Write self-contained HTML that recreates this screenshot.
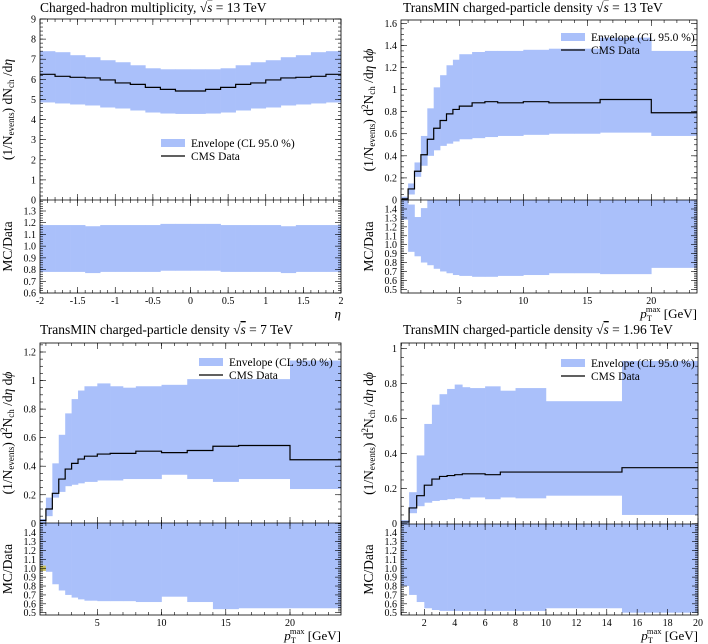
<!DOCTYPE html>
<html><head><meta charset="utf-8"><style>
html,body{margin:0;padding:0;background:#fff}
svg{display:block;font-family:"Liberation Serif",serif}
</style></head><body>
<svg id="c" width="708" height="644" viewBox="0 0 708 644" xmlns="http://www.w3.org/2000/svg"></svg>
<script>
// ---- Panel 1: charged-hadron multiplicity 13 TeV ----
const p1Edges = [-2,-1.8,-1.6,-1.4,-1.2,-1,-0.8,-0.6,-0.4,-0.2,0,0.2,0.4,0.6,0.8,1,1.2,1.4,1.6,1.8,2];
const p1Data = [6.25,6.15,6.1,6.07,5.97,5.82,5.75,5.6,5.5,5.42,5.42,5.5,5.6,5.75,5.82,5.97,6.07,6.1,6.15,6.25];
const p1Up = [7.4,7.35,7.2,7.1,6.95,6.85,6.7,6.55,6.5,6.5,6.5,6.5,6.55,6.7,6.85,6.95,7.1,7.2,7.35,7.4];
const p1Lo = [4.85,4.8,4.75,4.7,4.6,4.55,4.45,4.35,4.3,4.28,4.28,4.3,4.35,4.45,4.55,4.6,4.7,4.75,4.8,4.85];
const p1RUp = [1.18,1.18,1.18,1.17,1.18,1.18,1.18,1.18,1.19,1.19,1.19,1.19,1.18,1.18,1.18,1.18,1.17,1.18,1.18,1.18];
const p1RLo = [0.78,0.78,0.78,0.77,0.78,0.78,0.78,0.78,0.79,0.79,0.79,0.79,0.78,0.78,0.78,0.78,0.77,0.78,0.78,0.78];
const p1XTicks = ["-2","-1.5","-1","-0.5","0","0.5","1","1.5","2"];
const p1YTicks = ["0","1","2","3","4","5","6","7","8","9"];
const p1RTicks = ["0.6","0.7","0.8","0.9","1.0","1.1","1.2","1.3"];
// ---- Panel 2: TransMIN 13 TeV ----
const p2Edges = [0.5,1,1.5,2,2.5,3,3.5,4,4.5,5,6,7,8,10,12,14,16,20,24];
const p2Data = [0.01,0.1,0.26,0.41,0.55,0.65,0.72,0.78,0.82,0.85,0.88,0.89,0.88,0.89,0.88,0.88,0.91,0.79];
const p2Up = [0.03,0.15,0.34,0.58,0.83,1.02,1.13,1.22,1.27,1.32,1.34,1.35,1.35,1.36,1.37,1.37,1.47,1.35];
const p2Lo = [0,0.05,0.21,0.31,0.4,0.45,0.49,0.51,0.53,0.55,0.56,0.57,0.58,0.59,0.6,0.6,0.61,0.58];
const p2RUp = [1.6,1.45,1.31,1.41,1.6,1.6,1.6,1.6,1.6,1.6,1.6,1.6,1.6,1.6,1.6,1.6,1.6,1.6];
const p2RLo = [1.28,0.92,0.87,0.8,0.77,0.73,0.7,0.68,0.66,0.65,0.64,0.64,0.65,0.66,0.68,0.68,0.67,0.74];
const p2XTicks = ["5","10","15","20"];
const p2YTicks = ["0","0.2","0.4","0.6","0.8","1","1.2","1.4","1.6"];
const p2RTicks = ["0.5","0.6","0.7","0.8","0.9","1.0","1.1","1.2","1.3","1.4"];
// ---- Panel 3: TransMIN 7 TeV ----
const p3Edges = [0.5,1,1.5,2,2.5,3,3.5,4,4.5,5,6,7,8,10,12,14,16,20,24];
const p3Data = [0.02,0.1,0.21,0.31,0.38,0.42,0.45,0.47,0.47,0.485,0.49,0.49,0.505,0.495,0.51,0.54,0.545,0.445];
const p3Up = [0.03,0.18,0.42,0.62,0.77,0.87,0.93,0.96,0.96,0.98,0.96,0.95,0.96,0.97,1.01,1.01,1.01,1.14];
const p3Lo = [0,0.05,0.18,0.22,0.26,0.27,0.28,0.29,0.29,0.3,0.3,0.31,0.31,0.34,0.31,0.29,0.31,0.24];
const p3RUp = [1.6,1.6,1.6,1.6,1.6,1.6,1.6,1.6,1.6,1.6,1.6,1.6,1.6,1.6,1.6,1.6,1.6,1.6];
const p3RLo = [1.03,0.96,0.82,0.75,0.7,0.67,0.65,0.635,0.635,0.63,0.63,0.63,0.62,0.68,0.62,0.54,0.55,0.55];
const p3XTicks = ["5","10","15","20"];
const p3YTicks = ["0","0.2","0.4","0.6","0.8","1","1.2"];
const p3RTicks = ["0.5","0.6","0.7","0.8","0.9","1.0","1.1","1.2","1.3","1.4"];
// ---- Panel 4: TransMIN 1.96 TeV ----
const p4Edges = [0.5,1,1.5,2,2.5,3,3.5,4,4.5,5,6,7,8,10,15,20];
const p4Data = [0.01,0.09,0.16,0.22,0.255,0.27,0.275,0.28,0.285,0.285,0.28,0.295,0.295,0.295,0.32];
const p4Up = [0.02,0.18,0.39,0.57,0.68,0.74,0.77,0.795,0.78,0.775,0.785,0.76,0.775,0.7,0.93];
const p4Lo = [0,0.06,0.1,0.12,0.13,0.135,0.14,0.145,0.14,0.15,0.14,0.15,0.145,0.16,0.05];
const p4RUp = [1.6,1.6,1.6,1.6,1.6,1.6,1.6,1.6,1.6,1.6,1.6,1.6,1.6,1.6,1.6];
const p4RLo = [0.8,0.7,0.62,0.55,0.53,0.52,0.52,0.52,0.52,0.52,0.52,0.52,0.52,0.55,0.5];
const p4XTicks = ["2","4","6","8","10","12","14","16","18","20"];
const p4YTicks = ["0","0.2","0.4","0.6","0.8","1"];
const p4RTicks = ["0.5","0.6","0.7","0.8","0.9","1.0","1.1","1.2","1.3","1.4"];

const NS="http://www.w3.org/2000/svg";
const svg=document.getElementById('c');
const BLUE="#aac0fa";
function mk(tag,attrs,parent){const e=document.createElementNS(NS,tag);for(const k in attrs)e.setAttribute(k,attrs[k]);(parent||svg).appendChild(e);return e;}
function lin(v0,p0,v1,p1){return v=>p0+(v-v0)*(p1-p0)/(v1-v0);}

let clipId=0;
function panel(cfg){
  const g=mk('g',{});
  
  
  const {L,R,T,M,B}=cfg;
  const X=cfg.x, Y=cfg.y, RY=cfg.ry;
  const id1='cl'+(clipId++), id2='cl'+(clipId++);
  const cp1=mk('clipPath',{id:id1},g); mk('rect',{x:L,y:T,width:R-L,height:M-T},cp1);
  const cp2=mk('clipPath',{id:id2},g); mk('rect',{x:L,y:M,width:R-L,height:B-M},cp2);
  const gm=mk('g',{'clip-path':'url(#'+id1+')'},g);
  const gr=mk('g',{'clip-path':'url(#'+id2+')'},g);
  const E=cfg.edges;
  for(let i=0;i<E.length-1;i++){
    const x0=X(E[i]),x1=X(E[i+1]);
    const r=mk('rect',{x:x0,y:Y(cfg.up[i]),width:x1-x0+0.3,height:Math.max(0,Y(cfg.lo[i])-Y(cfg.up[i])),fill:BLUE},gm);
    
    
    const rr=mk('rect',{x:x0,y:RY(cfg.rup[i]),width:x1-x0+0.3,height:Math.max(0,RY(cfg.rlo[i])-RY(cfg.rup[i])),fill:BLUE},gr);
    
    
  }
  if(cfg.yellow){const yr=mk('rect',{x:X(E[0]),y:RY(1.03),width:X(E[1])-X(E[0]),height:RY(0.97)-RY(1.03),fill:"#c8c060"},gr);
    }
  let d='';
  for(let i=0;i<E.length-1;i++){
    const y=Y(cfg.data[i]);
    d+=(i===0?'M':'L')+X(E[i])+','+y+'L'+X(E[i+1])+','+y;
  }
  const pl=mk('path',{d:d,fill:'none',stroke:'#000','stroke-width':1.2},gm);
  
  
  mk('rect',{x:L,y:T,width:R-L,height:B-T,fill:'none',stroke:'#000','stroke-width':0.8},g);
  mk('line',{x1:L,y1:M,x2:R,y2:M,stroke:'#000','stroke-width':0.8},g);
  const xt=mk('g',{stroke:'#000','stroke-width':0.6},g);
  for(const v of cfg.xminor){const x=X(v);if(x<L-0.1||x>R+0.1)continue;
    for(const [a,b] of [[T,T+3],[M-3,M+3],[B-3,B]])mk('line',{x1:x,y1:a,x2:x,y2:b},xt);}
  for(const t of cfg.xticks){const x=X(parseFloat(t));
    for(const [a,b] of [[T,T+6],[M-6,M+6],[B-6,B]])mk('line',{x1:x,y1:a,x2:x,y2:b},xt);
    const tx=mk('text',{x:x,y:B+11,'font-size':10,'text-anchor':'middle',fill:'#000'},g);tx.textContent=t;
    }
  for(const v of cfg.yminor){const y=Y(v);if(y<T-0.1||y>M+0.1)continue;
    mk('line',{x1:L,y1:y,x2:L+3,y2:y},xt);mk('line',{x1:R-3,y1:y,x2:R,y2:y},xt);}
  for(const t of cfg.yticks){const y=Y(parseFloat(t));
    mk('line',{x1:L,y1:y,x2:L+6,y2:y},xt);mk('line',{x1:R-6,y1:y,x2:R,y2:y},xt);
    const tx=mk('text',{x:L-4,y:y+3.5,'font-size':10,'text-anchor':'end',fill:'#000'},g);tx.textContent=t;
    }
  for(const v of cfg.rminor){const y=RY(v);if(y<M-0.1||y>B+0.1)continue;
    mk('line',{x1:L,y1:y,x2:L+3,y2:y},xt);mk('line',{x1:R-3,y1:y,x2:R,y2:y},xt);}
  for(const t of cfg.rticks){const y=RY(parseFloat(t));
    mk('line',{x1:L,y1:y,x2:L+6,y2:y},xt);mk('line',{x1:R-6,y1:y,x2:R,y2:y},xt);
    const tx=mk('text',{x:L-4,y:y+3.5,'font-size':10,'text-anchor':'end',fill:'#000'},g);tx.textContent=t;
    }
  const ti=mk('text',{x:cfg.tx,y:cfg.ty,'font-size':13.5,fill:'#000'},g);ti.innerHTML=cfg.title;
  
  const lg=mk('g',{},g);
  
  mk('rect',{x:cfg.lx,y:cfg.ly,width:24,height:8,fill:BLUE},lg);
  const l1=mk('text',{x:cfg.lx+30,y:cfg.ly+8,'font-size':11.5,fill:'#000'},lg);l1.textContent='Envelope (CL 95.0 %)';
  
  mk('line',{x1:cfg.lx,y1:cfg.ly+17,x2:cfg.lx+24,y2:cfg.ly+17,stroke:'#000','stroke-width':1.2},lg);
  const l2=mk('text',{x:cfg.lx+30,y:cfg.ly+21,'font-size':11.5,fill:'#000'},lg);l2.textContent='CMS Data';
  
  const yl=mk('text',{transform:`translate(${L-28},${(T+M)/2}) rotate(-90)`,'font-size':13.5,'text-anchor':'middle',fill:'#000'},g);
  yl.innerHTML=cfg.ylabel;
  
  const rl=mk('text',{transform:`translate(${L-28},${(M+B)/2}) rotate(-90)`,'font-size':13.5,'text-anchor':'middle',fill:'#000'},g);
  rl.textContent='MC/Data';
  
  const xl=mk('text',{x:R,y:B+25,'font-size':13,'text-anchor':'end',fill:'#000'},g);
  xl.innerHTML=cfg.xlabel;
  
}
function range(a,b,s){const r=[];for(let v=a;v<=b+1e-9;v+=s)r.push(Math.round(v*1000)/1000);return r;}
const yDens='(1/N<tspan font-size="9" dy="2">events</tspan><tspan dy="-2">) d</tspan><tspan font-size="9" dy="-5">2</tspan><tspan dy="5">N</tspan><tspan font-size="9" dy="2">ch</tspan><tspan dy="-2"> /d</tspan><tspan font-style="italic">η</tspan> d<tspan font-style="italic">ϕ</tspan>';
const xPt='<tspan font-style="italic">p</tspan><tspan font-size="8.5" dy="3">T</tspan><tspan font-size="8.5" dx="-6" dy="-9">max</tspan><tspan dy="6"> [GeV]</tspan>';
const sq=(s)=>`√<tspan text-decoration="overline" font-style="italic">s</tspan> = ${s} TeV`;

panel({name:'panel-multiplicity-13tev',L:40,R:341,T:19,M:200,B:293,
  x:lin(-2,40,2,341),y:lin(0,200,9,19),ry:lin(1.3,211,0.6,293),
  edges:p1Edges,data:p1Data,up:p1Up,lo:p1Lo,rup:p1RUp,rlo:p1RLo,
  xticks:p1XTicks,yticks:p1YTicks,rticks:p1RTicks,
  xminor:range(-2,2,0.1),yminor:range(0,9,0.2),rminor:range(0.6,1.4,0.02),
  title:'Charged-hadron multiplicity, '+sq('13'),tx:40,ty:12,lx:161,ly:139,
  ylabel:'(1/N<tspan font-size="9" dy="2">events</tspan><tspan dy="-2">) dN</tspan><tspan font-size="9" dy="2">ch</tspan><tspan dy="-2"> /d</tspan><tspan font-style="italic">η</tspan>',
  xlabel:'<tspan font-style="italic">η</tspan>'});
panel({name:'panel-transmin-13tev',L:401,R:697,T:20,M:200,B:293,
  x:lin(5,459.3,20,651.3),y:lin(0,200,1.6,23.3),ry:lin(1.4,209,0.5,289.3),
  edges:p2Edges,data:p2Data,up:p2Up,lo:p2Lo,rup:p2RUp,rlo:p2RLo,
  xticks:p2XTicks,yticks:p2YTicks,rticks:p2RTicks,
  xminor:range(1,24,1),yminor:range(0,1.6,0.05),rminor:range(0.5,1.5,0.02),
  title:'TransMIN charged-particle density '+sq('13'),tx:403,ty:12,lx:561,ly:33,
  ylabel:yDens,xlabel:xPt});
panel({name:'panel-transmin-7tev',L:40,R:341,T:343,M:523,B:615,
  x:lin(5,97.3,20,290),y:lin(0,523.3,1.2,352),ry:lin(1.4,532.7,0.5,612.7),
  edges:p3Edges,data:p3Data,up:p3Up,lo:p3Lo,rup:p3RUp,rlo:p3RLo,yellow:true,
  xticks:p3XTicks,yticks:p3YTicks,rticks:p3RTicks,
  xminor:range(1,24,1),yminor:range(0,1.25,0.05),rminor:range(0.5,1.5,0.02),
  title:'TransMIN charged-particle density '+sq('7'),tx:40,ty:334,lx:199,ly:358,
  ylabel:yDens,xlabel:xPt});
panel({name:'panel-transmin-1.96tev',L:401,R:698,T:343,M:524,B:615,
  x:lin(2,424.3,20,698),y:lin(0,523.7,1,348.7),ry:lin(1.4,532.7,0.5,612.7),
  edges:p4Edges,data:p4Data,up:p4Up,lo:p4Lo,rup:p4RUp,rlo:p4RLo,
  xticks:p4XTicks,yticks:p4YTicks,rticks:p4RTicks,
  xminor:range(0.5,20,0.5),yminor:range(0,1,0.05),rminor:range(0.5,1.5,0.02),
  title:'TransMIN charged-particle density '+sq('1.96'),tx:403,ty:334,lx:561,ly:359,
  ylabel:yDens,xlabel:xPt});
</script>
</body></html>
